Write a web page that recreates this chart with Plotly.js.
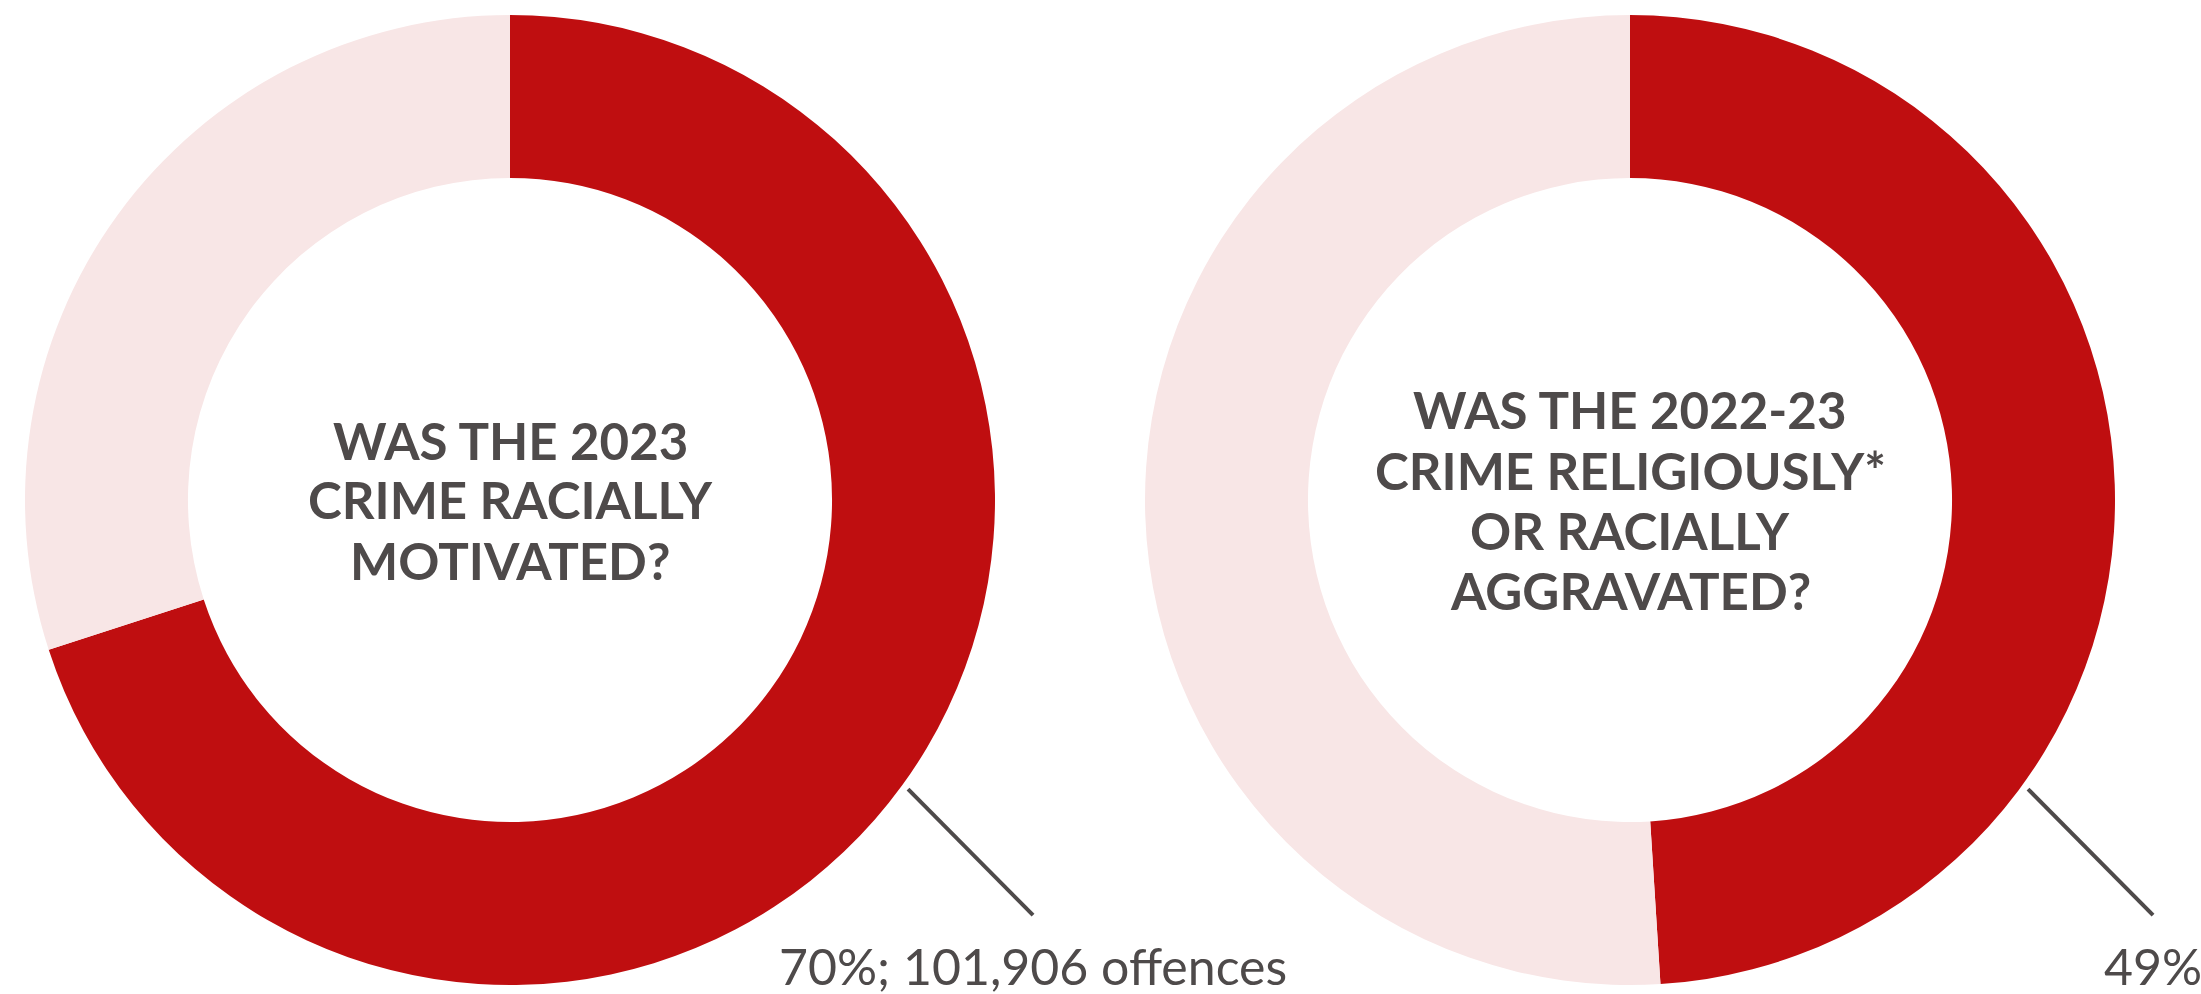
<!DOCTYPE html>
<html>
<head>
<meta charset="utf-8">
<script src="https://cdn.plot.ly/plotly-3.0.1.min.js"></script>
<style>
  html, body { margin: 0; padding: 0; background: #ffffff; }
  #chart { width: 2201px; height: 994px; }
</style>
</head>
<body>
<div id="chart"></div>
<script>
// ---- data ----
const categories = ["Yes", "No"];
const racialMotivated2023 = [70, 30];          // % of 2023 crimes racially motivated
const aggravated2022_23 = [49, 51];            // % of 2022-23 crimes religiously/racially aggravated
const centreTextLeft = ["WAS THE 2023", "CRIME RACIALLY", "MOTIVATED?"];
const centreTextRight = ["WAS THE 2022-23", "CRIME RELIGIOUSLY*", "OR RACIALLY", "AGGRAVATED?"];
const valueLabels = ["70%; 101,906 offences", "49%"];

// ---- styling / layout ----
const W = 2201, H = 994;
const RED = "#bf0e10", PALE = "#f8e6e6", TEXT = "#4e4a4a";
const cxs = [510, 1630], cy = 500, R = 485;
const holeFrac = 0.664;
const linePitch = 60;

function dom(cx) {
  return {
    x: [(cx - R) / W, (cx + R) / W],
    y: [1 - (cy + R) / H, 1 - (cy - R) / H]
  };
}

const seriesList = [racialMotivated2023, aggravated2022_23];
const traces = seriesList.map((vals, i) => ({
  type: "pie",
  labels: categories,
  values: vals,
  sort: false,
  direction: "clockwise",
  rotation: 0,
  hole: holeFrac,
  textinfo: "none",
  hoverinfo: "label+value",
  marker: { colors: [RED, PALE], line: { width: 0 } },
  domain: dom(cxs[i]),
  showlegend: false
}));

const annotations = [];
const shapes = [];
[centreTextLeft, centreTextRight].forEach((lines, i) => {
  const n = lines.length;
  lines.forEach((t, k) => {
    const ypx = cy + (k - (n - 1) / 2) * linePitch;
    annotations.push({
      text: t, x: cxs[i] / W, y: 1 - ypx / H,
      xref: "paper", yref: "paper", xanchor: "center", yanchor: "middle",
      showarrow: false,
      font: { family: "Lato, 'Open Sans', sans-serif", size: 51, weight: 700, color: TEXT }
    });
  });
  // leader line and value label
  const ang = 126 * Math.PI / 180;
  const x0 = cxs[i] + 492 * Math.sin(ang), y0 = cy - 492 * Math.cos(ang);
  const x1 = x0 + 125, y1 = y0 + 126;
  shapes.push({
    type: "line", xref: "paper", yref: "paper",
    x0: x0 / W, y0: 1 - y0 / H, x1: x1 / W, y1: 1 - y1 / H,
    line: { color: TEXT, width: 4 }
  });
  annotations.push({
    text: valueLabels[i], x: x1 / W, y: 1 - 966 / H,
    xref: "paper", yref: "paper", xanchor: "center", yanchor: "middle",
    showarrow: false,
    font: { family: "Lato, 'Open Sans', sans-serif", size: 50, weight: 400, color: TEXT }
  });
});

const layout = {
  width: W, height: H,
  margin: { l: 0, r: 0, t: 0, b: 0 },
  paper_bgcolor: "#ffffff",
  plot_bgcolor: "#ffffff",
  showlegend: false,
  annotations: annotations,
  shapes: shapes
};

Plotly.newPlot("chart", traces, layout, { displayModeBar: false, staticPlot: true });
</script>
</body>
</html>
